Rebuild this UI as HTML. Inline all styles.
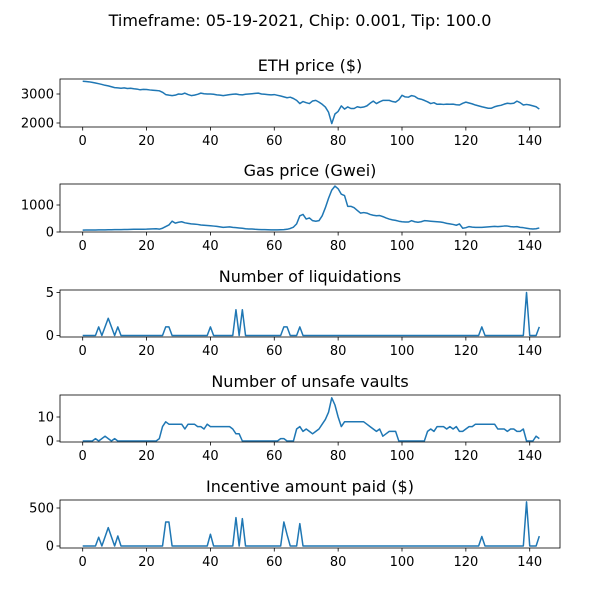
<!DOCTYPE html>
<html><head><meta charset="utf-8"><style>
body{margin:0;background:#fff}
svg text{font-family:"DejaVu Sans","Liberation Sans",sans-serif;fill:#000}
</style></head><body>
<svg id="fig" width="600" height="600" viewBox="0 0 600 600" xmlns="http://www.w3.org/2000/svg">
<text x="300" y="26" text-anchor="middle" font-size="16">Timeframe: 05-19-2021, Chip: 0.001, Tip: 100.0</text>
</svg>
<script>
const xTicks=[0,20,40,60,80,100,120,140];
const ethPrice=[3440,3430,3420,3400,3380,3355,3330,3300,3280,3250,3220,3210,3200,3210,3190,3200,3180,3170,3145,3160,3155,3140,3130,3120,3110,3060,2980,2960,2945,2960,3000,2990,3030,2980,2945,2960,2990,3030,3010,3000,3000,2990,2970,2960,2945,2960,2980,2990,3000,2980,2970,2990,3000,3010,3020,3030,3000,2990,2980,2970,2980,2955,2930,2900,2870,2890,2845,2780,2670,2740,2700,2670,2760,2780,2720,2645,2550,2370,1980,2310,2400,2590,2480,2555,2500,2500,2560,2535,2550,2590,2680,2755,2670,2730,2780,2780,2780,2740,2720,2800,2955,2900,2890,2945,2920,2845,2820,2780,2730,2670,2700,2645,2650,2640,2650,2645,2650,2630,2620,2680,2720,2690,2660,2620,2590,2560,2535,2510,2510,2560,2590,2610,2650,2680,2670,2680,2755,2700,2620,2640,2620,2590,2560,2480];
const gasPrice=[70,72,72,74,75,77,78,80,82,84,86,88,90,92,95,97,100,100,102,104,105,110,115,120,105,140,200,260,400,330,360,380,340,320,300,290,280,260,250,240,230,220,210,190,170,180,190,170,160,150,140,120,110,110,100,95,90,90,85,80,80,80,85,90,100,130,180,300,600,650,480,520,420,400,420,600,900,1250,1550,1700,1600,1400,1350,950,950,900,800,700,720,700,650,620,600,610,570,520,480,450,430,400,380,370,370,420,380,360,380,420,410,400,390,380,370,350,320,300,280,250,300,140,160,200,180,170,170,170,180,190,200,210,200,210,220,220,200,190,200,170,160,140,120,110,120,150];
const liquidations=[0,0,0,0,0,1,0,1,2,1,0,1,
0,0,0,0,0,0,0,0,0,0,0,0,
0,0,1,1,0,0,0,0,0,0,0,0,
0,0,0,0,1,0,0,0,0,0,0,0,
3,0,3,0,0,0,0,0,0,0,0,0,
0,0,0,1,1,0,0,0,1,0,0,0,
0,0,0,0,0,0,0,0,0,0,0,0,
0,0,0,0,0,0,0,0,0,0,0,0,
0,0,0,0,0,0,0,0,0,0,0,0,
0,0,0,0,0,0,0,0,0,0,0,0,
0,0,0,0,0,1,0,0,0,0,0,0,
0,0,0,0,0,0,0,5,0,0,0,1];
const unsafeVaults=[0,0,0,0,1,0,1,2,1,0,1,0,0,
0,0,0,0,0,0,0,0,0,0,0,
1,6,8,7,7,7,7,7,5,7,7,7,6,6,5,7,6,6,6,6,6,6,6,5,3,3,
0,0,0,0,0,0,0,0,0,0,0,0,
1,1,0,0,0,
5,6,4,5,4,3,4,5,7,9,12,18,15,10,6,
8,8,8,8,8,8,8,7,6,5,4,5,2,3,4,4,4,
0,0,0,0,0,0,0,0,0,
4,5,4,6,6,6,5,6,5,6,4,4,5,6,6,7,7,7,7,7,7,7,5,5,5,4,5,5,4,4,5,
0,0,0,2,1];
const incentive=[0,0,0,0,0,115,0,120,242,120,0,132,
0,0,0,0,0,0,0,0,0,0,0,0,
0,0,316,316,0,0,0,0,0,0,0,0,
0,0,0,0,155,0,0,0,0,0,0,0,
374,0,360,0,0,0,0,0,0,0,0,0,
0,0,0,316,150,0,0,0,295,0,0,0,
0,0,0,0,0,0,0,0,0,0,0,0,
0,0,0,0,0,0,0,0,0,0,0,0,
0,0,0,0,0,0,0,0,0,0,0,0,
0,0,0,0,0,0,0,0,0,0,0,0,
0,0,0,0,0,125,0,0,0,0,0,0,
0,0,0,0,0,0,0,580,0,0,0,130];
const ethTicks=[2000,3000], gasTicks=[0,1000], liqTicks=[0,5], unsafeTicks=[0,10], incTicks=[0,500];

const svg=document.getElementById('fig');
const NS='http://www.w3.org/2000/svg';
function mk(tag,attrs,parent){const e=document.createElementNS(NS,tag);for(const k in attrs)e.setAttribute(k,attrs[k]);(parent||svg).appendChild(e);return e;}
const L=60,R=560;
const xScale=v=>82.7+v*3.193;
const panels=[
 ['eth-price','ETH price ($)',79,127,ethPrice,ethTicks,2000,123,0.029],
 ['gas-price','Gas price (Gwei)',184,232,gasPrice,gasTicks,0,232,0.027],
 ['liquidations','Number of liquidations',290,337,liquidations,liqTicks,0,335.5,8.6],
 ['unsafe-vaults','Number of unsafe vaults',395,442,unsafeVaults,unsafeTicks,0,441,2.4],
 ['incentive-paid','Incentive amount paid ($)',500,548,incentive,incTicks,0,546,0.076]
];
panels.forEach(p=>{
 const [nm,title,top,bot,data,ticks,rv,rp,k]=p;
 const yS=v=>rp-(v-rv)*k;
 const g=mk('g',{});
 
 
 const t=mk('text',{x:310,y:top-8,'text-anchor':'middle','font-size':16},g);
 t.textContent=title;
 
 
 xTicks.forEach(v=>{
  const x=xScale(v);
  const tk=mk('line',{x1:x,x2:x,y1:bot,y2:bot+3.5,stroke:'#000','stroke-width':0.8},g);
  
  
  const tl=mk('text',{x:x,y:bot+18,'text-anchor':'middle','font-size':13},g);tl.textContent=v;
  
  
 });
 ticks.forEach(v=>{
  const y=yS(v);
  const tk=mk('line',{x1:L-3.5,x2:L,y1:y,y2:y,stroke:'#000','stroke-width':0.8},g);
  
  
  const tl=mk('text',{x:L-6,y:y+4.5,'text-anchor':'end','font-size':13},g);tl.textContent=v;
  
  
 });
 const pts=data.map((v,i)=>xScale(i).toFixed(2)+','+yS(v).toFixed(2)).join(' ');
 const ln=mk('polyline',{points:pts,fill:'none',stroke:'#1f77b4','stroke-width':1.5,'stroke-linejoin':'round'},g);
 
 
 const fr=mk('rect',{x:L,y:top,width:R-L,height:bot-top,fill:'none',stroke:'#000','stroke-width':0.8},g);
 
 
});
</script>
</body></html>
